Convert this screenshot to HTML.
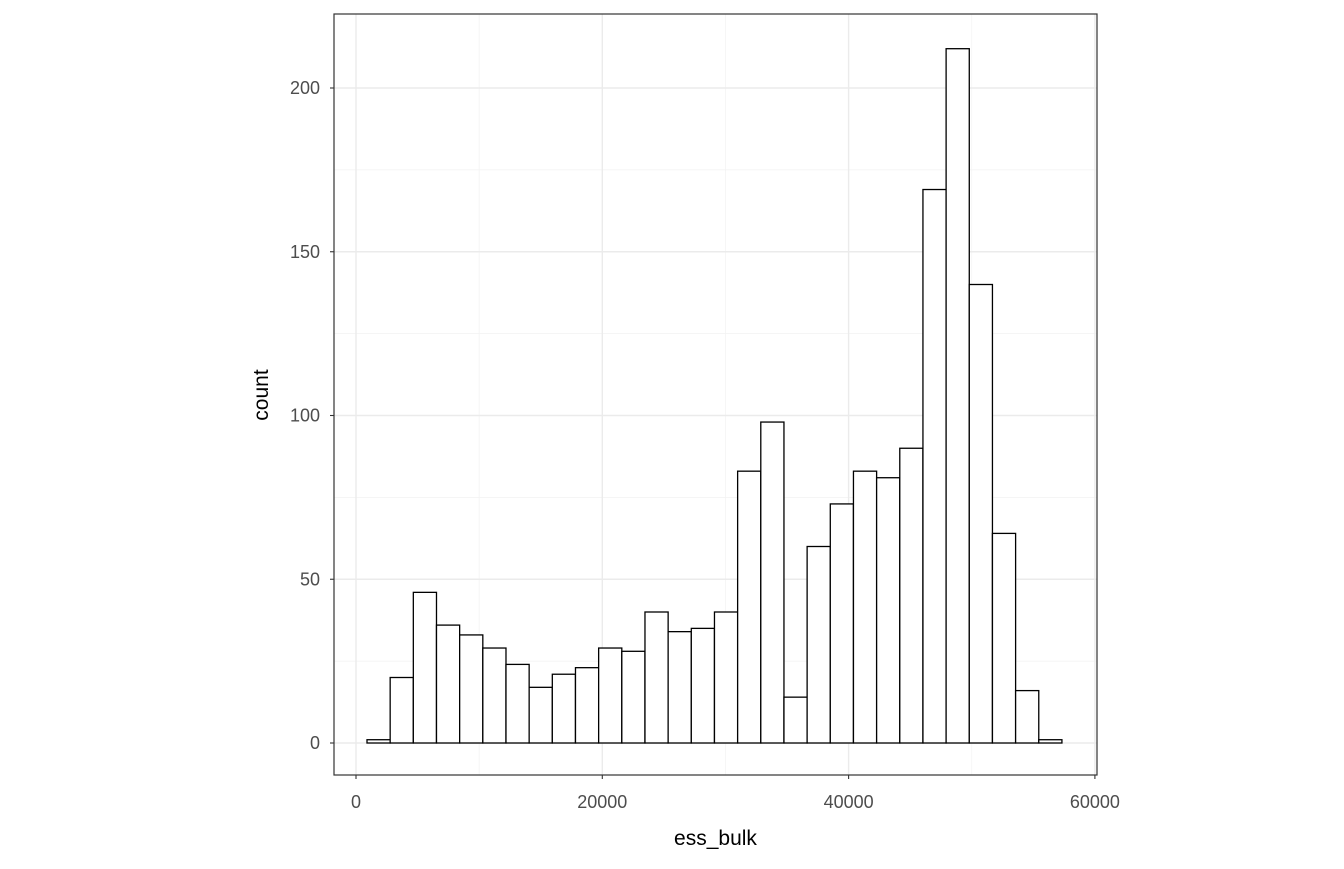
<!DOCTYPE html>
<html><head><meta charset="utf-8"><style>
body{margin:0;background:#fff}
svg text{font-family:"Liberation Sans",Arial,sans-serif}
</style></head><body>
<svg id="c" width="1344" height="864"></svg>
<script>
const binStart = 893;
const binWidth = 1881;
const counts = [1,20,46,36,33,29,24,17,21,23,29,28,40,34,35,40,83,98,14,60,73,83,81,90,169,212,140,64,16,1];
const xTicks = [0,20000,40000,60000];
const yTicks = [0,50,100,150,200];
const xMinor = [10000,30000,50000];
const yMinor = [25,75,125,175];
const L=334,R=1097,T=14,B=775;
const x=v=>356+(v/20000)*246.3;
const y=v=>743-v*3.275;
const s=document.getElementById('c');
const NS='http://www.w3.org/2000/svg';
function mk(t,a,p){const e=document.createElementNS(NS,t);for(const k in a)e.setAttribute(k,a[k]);(p||s).appendChild(e);return e;}
const grid=mk('g',{});


xMinor.forEach(v=>mk('line',{x1:x(v),x2:x(v),y1:T,y2:B,stroke:'#f2f2f2','stroke-width':0.7},grid));
yMinor.forEach(v=>mk('line',{x1:L,x2:R,y1:y(v),y2:y(v),stroke:'#f2f2f2','stroke-width':0.7},grid));
xTicks.forEach(v=>mk('line',{x1:x(v),x2:x(v),y1:T,y2:B,stroke:'#ebebeb','stroke-width':1.4},grid));
yTicks.forEach(v=>mk('line',{x1:L,x2:R,y1:y(v),y2:y(v),stroke:'#ebebeb','stroke-width':1.4},grid));
counts.forEach((c,i)=>{
  const x0=x(binStart+i*binWidth),x1=x(binStart+(i+1)*binWidth);
  const r=mk('rect',{x:x0,y:y(c),width:x1-x0,height:y(0)-y(c),fill:'#fff',stroke:'#000','stroke-width':1.3});
  
  
});
const fr=mk('rect',{x:L,y:T,width:R-L,height:B-T,fill:'none',stroke:'#333','stroke-width':1.2});


xTicks.forEach(v=>{
  mk('line',{x1:x(v),x2:x(v),y1:B,y2:B+4,stroke:'#333','stroke-width':1.1});
  const t=mk('text',{x:x(v),y:B+33,'text-anchor':'middle','font-size':18,fill:'#4d4d4d'});
  t.textContent=v;
  
  
});
yTicks.forEach(v=>{
  mk('line',{x1:L-4,x2:L,y1:y(v),y2:y(v),stroke:'#333','stroke-width':1.1});
  const t=mk('text',{x:L-14,y:y(v)+6,'text-anchor':'end','font-size':18,fill:'#4d4d4d'});
  t.textContent=v;
  
  
});
const xt=mk('text',{x:(L+R)/2,y:845,'text-anchor':'middle','font-size':21,fill:'#000'});
xt.textContent='ess_bulk';


const yt=mk('text',{x:0,y:0,'text-anchor':'middle','font-size':21,fill:'#000',transform:'translate(268,395) rotate(-90)'});
yt.textContent='count';


</script>
</body></html>
